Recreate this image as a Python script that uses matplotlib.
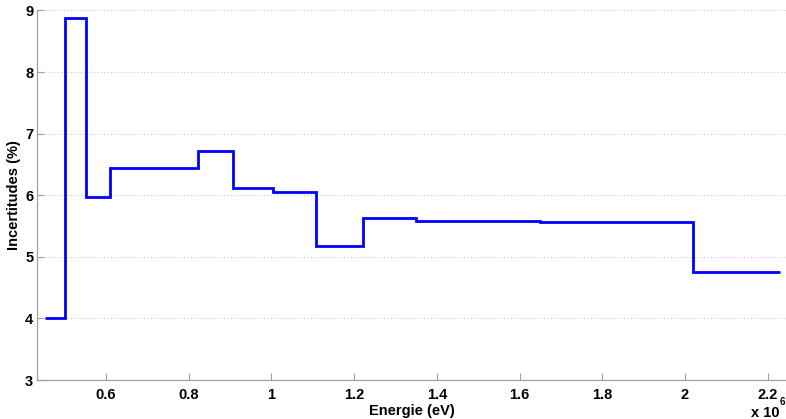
import matplotlib
matplotlib.use("Agg")
import matplotlib.pyplot as plt
import numpy as np

# Energy bin edges (eV) and the uncertainty in each bin (%)
bin_edges = [0.4525e6, 0.500e6, 0.552e6, 0.610e6, 0.822e6, 0.906e6, 1.003e6,
             1.107e6, 1.222e6, 1.350e6, 1.650e6, 2.019e6, 2.230e6]
uncertainty = [4.00, 8.88, 5.97, 6.45, 6.72, 6.12, 6.06, 5.17, 5.63, 5.58, 5.56, 4.75]

x_ticks = [0.6e6, 0.8e6, 1.0e6, 1.2e6, 1.4e6, 1.6e6, 1.8e6, 2.0e6, 2.2e6]
x_ticklabels = ["0.6", "0.8", "1", "1.2", "1.4", "1.6", "1.8", "2", "2.2"]
y_ticks = [3, 4, 5, 6, 7, 8, 9]

plt.rcParams['font.family'] = ['Liberation Sans', 'DejaVu Sans']

fig = plt.figure(figsize=(7.86, 4.19), dpi=100)
ax = fig.add_axes([0.0477, 0.093, 0.9523, 0.882])

ax.stairs(uncertainty, bin_edges, color='#0000ff', linewidth=2.0, baseline=None)

ax.set_xlim(0.434e6, 2.2445e6)
ax.set_ylim(3, 9)
ax.set_xticks(x_ticks)
ax.set_xticklabels(x_ticklabels)
ax.set_yticks(y_ticks)

ax.yaxis.grid(True, linestyle=(0, (1, 2)), color='#c8c8c8', linewidth=0.8)
ax.set_axisbelow(True)

for side in ('top', 'right'):
    ax.spines[side].set_visible(False)
for side in ('left', 'bottom'):
    ax.spines[side].set_color('#a0a0a0')
    ax.spines[side].set_linewidth(0.9)

ax.tick_params(direction='in', length=5, width=0.8, color='#a0a0a0',
               labelsize=10.5)
ax.tick_params(axis='x', pad=5.5)
ax.tick_params(axis='y', pad=3)
for lbl in ax.get_xticklabels() + ax.get_yticklabels():
    lbl.set_fontweight('bold')

ax.set_xlabel("Energie (eV)", fontsize=10.5, fontweight='bold', labelpad=1.5)
ax.set_ylabel("Incertitudes (%)", fontsize=10.5, fontweight='bold', labelpad=3)

# axis multiplier, drawn as base and exponent
fig.text(0.9555, 0.004, "x 10", fontsize=10.5, fontweight='bold',
         ha='left', va='baseline')
fig.text(0.9915, 0.034, "6", fontsize=7, fontweight='bold',
         ha='left', va='baseline')

fig.savefig("out.png", dpi=100)
